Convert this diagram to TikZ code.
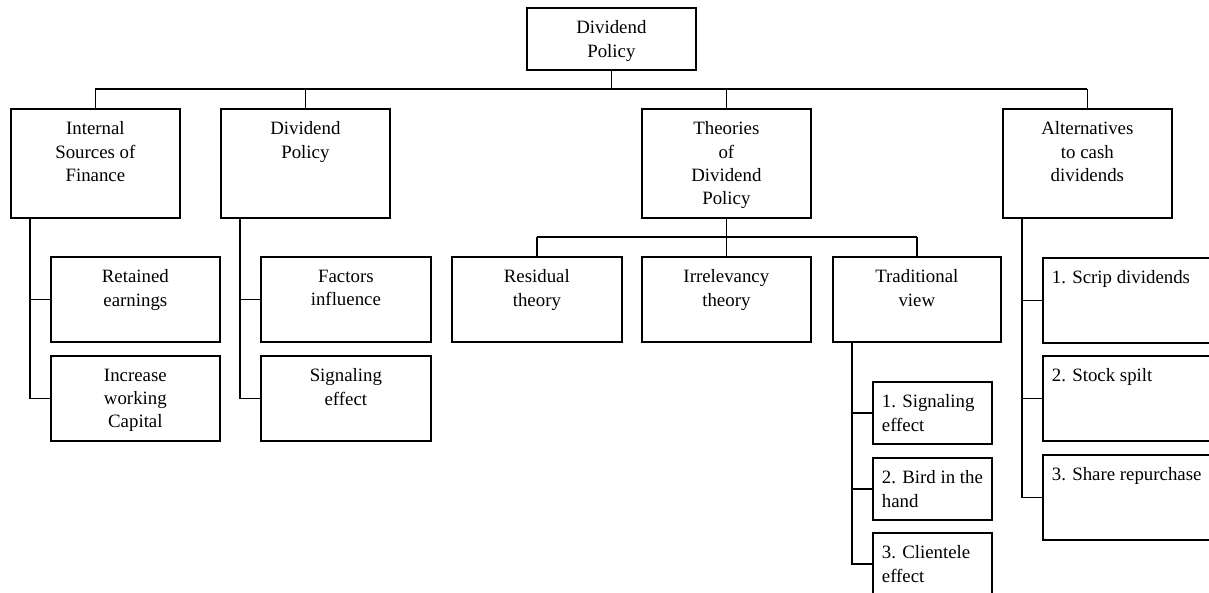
\documentclass[tikz,border=0pt]{standalone}
\usepackage{fontspec}
\setmainfont{Liberation Serif}
\tikzset{
  >=latex,
  box/.style={draw, line width=1.2pt, anchor=north west, inner sep=0pt,
    minimum width=4.225cm, minimum height=#1},
  boxtitle/.style={anchor=north, align=center, inner sep=0pt, yshift=-0.34cm},
  boxlist/.style={anchor=north west, align=left, inner sep=0pt, xshift=0.24cm, yshift=-0.34cm},
  wire/.style={line width=1.2pt}
}

\begin{document}
\begin{tikzpicture}[x=0.025cm,y=-0.025cm,font=\fontsize{13.4}{16.4}\selectfont]
      \useasboundingbox (0,0) rectangle (1209,592);
      \clip (0,0) rectangle (1209,592);
      % top
      \node[box=1.55cm,label={[boxtitle]north:Dividend\\Policy}] (top) at (526,7) {};
      % first row
      \node[box=2.725cm,label={[boxtitle]north:Internal\\Sources of\\Finance}] (isf) at (10,108) {};
      \node[box=2.725cm,label={[boxtitle]north:Dividend\\Policy}] (dvp) at (220,108) {};
      \node[box=2.725cm,label={[boxtitle]north:Theories\\of\\Dividend\\Policy}] (thy) at (641,108) {};
      \node[box=2.725cm,label={[boxtitle]north:Alternatives\\to cash\\dividends}] (alt) at (1002,108) {};
      % left branches
      \node[box=2.125cm,label={[boxtitle]north:Retained\\earnings}] (ret) at (50,256) {};
      \node[box=2.125cm,label={[boxtitle]north:Increase\\working\\Capital}] (inc) at (50,355) {};
      \node[box=2.125cm,minimum width=4.25cm,label={[boxtitle]north:Factors\\influence}] (fac) at (260,256) {};
      \node[box=2.125cm,minimum width=4.25cm,label={[boxtitle]north:Signaling\\effect}] (sig) at (260,355) {};
      % theories
      \node[box=2.125cm,minimum width=4.25cm,label={[boxtitle]north:Residual\\theory}] (res) at (451,256) {};
      \node[box=2.125cm,label={[boxtitle]north:Irrelevancy\\theory}] (irr) at (641,256) {};
      \node[box=2.125cm,minimum width=4.2cm,label={[boxtitle]north:Traditional\\view}] (trd) at (832,256) {};
      \node[box=1.55cm,minimum width=2.975cm,label={[boxlist]north west:1. Signaling\\effect}] (ts1) at (872,381) {};
      \node[box=1.55cm,minimum width=2.975cm,label={[boxlist]north west:2. Bird in the\\hand}] (ts2) at (872,457) {};
      \node[box=1.55cm,minimum width=2.975cm,label={[boxlist]north west:3. Clientele\\effect}] (ts3) at (872,532) {};
      % alternatives
      \node[box=2.125cm,minimum width=4.3cm,label={[boxlist]north west:1. Scrip dividends}] (as1) at (1042,257) {};
      \node[box=2.125cm,minimum width=4.3cm,label={[boxlist]north west:2. Stock spilt}] (as2) at (1042,355) {};
      \node[box=2.125cm,minimum width=4.3cm,label={[boxlist]north west:3. Share repurchase}] (as3) at (1042,454) {};
      % connectors
      \coordinate (bus) at (0,89);
      \coordinate (tbus) at (0,237);
      \draw[wire] (top.south) -- (top.south |- bus);
      \draw[wire] (isf.north |- bus) -- (alt.north |- bus);
      \foreach \n in {isf,dvp,thy,alt} \draw[wire] (\n.north) -- (\n.north |- bus);
      \draw[wire] (thy.south) -- (thy.south |- tbus);
      \draw[wire] (res.north |- tbus) -- (trd.north |- tbus);
      \foreach \n in {res,irr,trd} \draw[wire] (\n.north) -- (\n.north |- tbus);
      \foreach \p/\c in {isf/ret,isf/inc,dvp/fac,dvp/sig,trd/ts1,trd/ts2,trd/ts3,alt/as1,alt/as2,alt/as3}
      \draw[wire] ([xshift=0.5cm]\p.south west) |- (\c.west);
    \end{tikzpicture}
\end{document}
